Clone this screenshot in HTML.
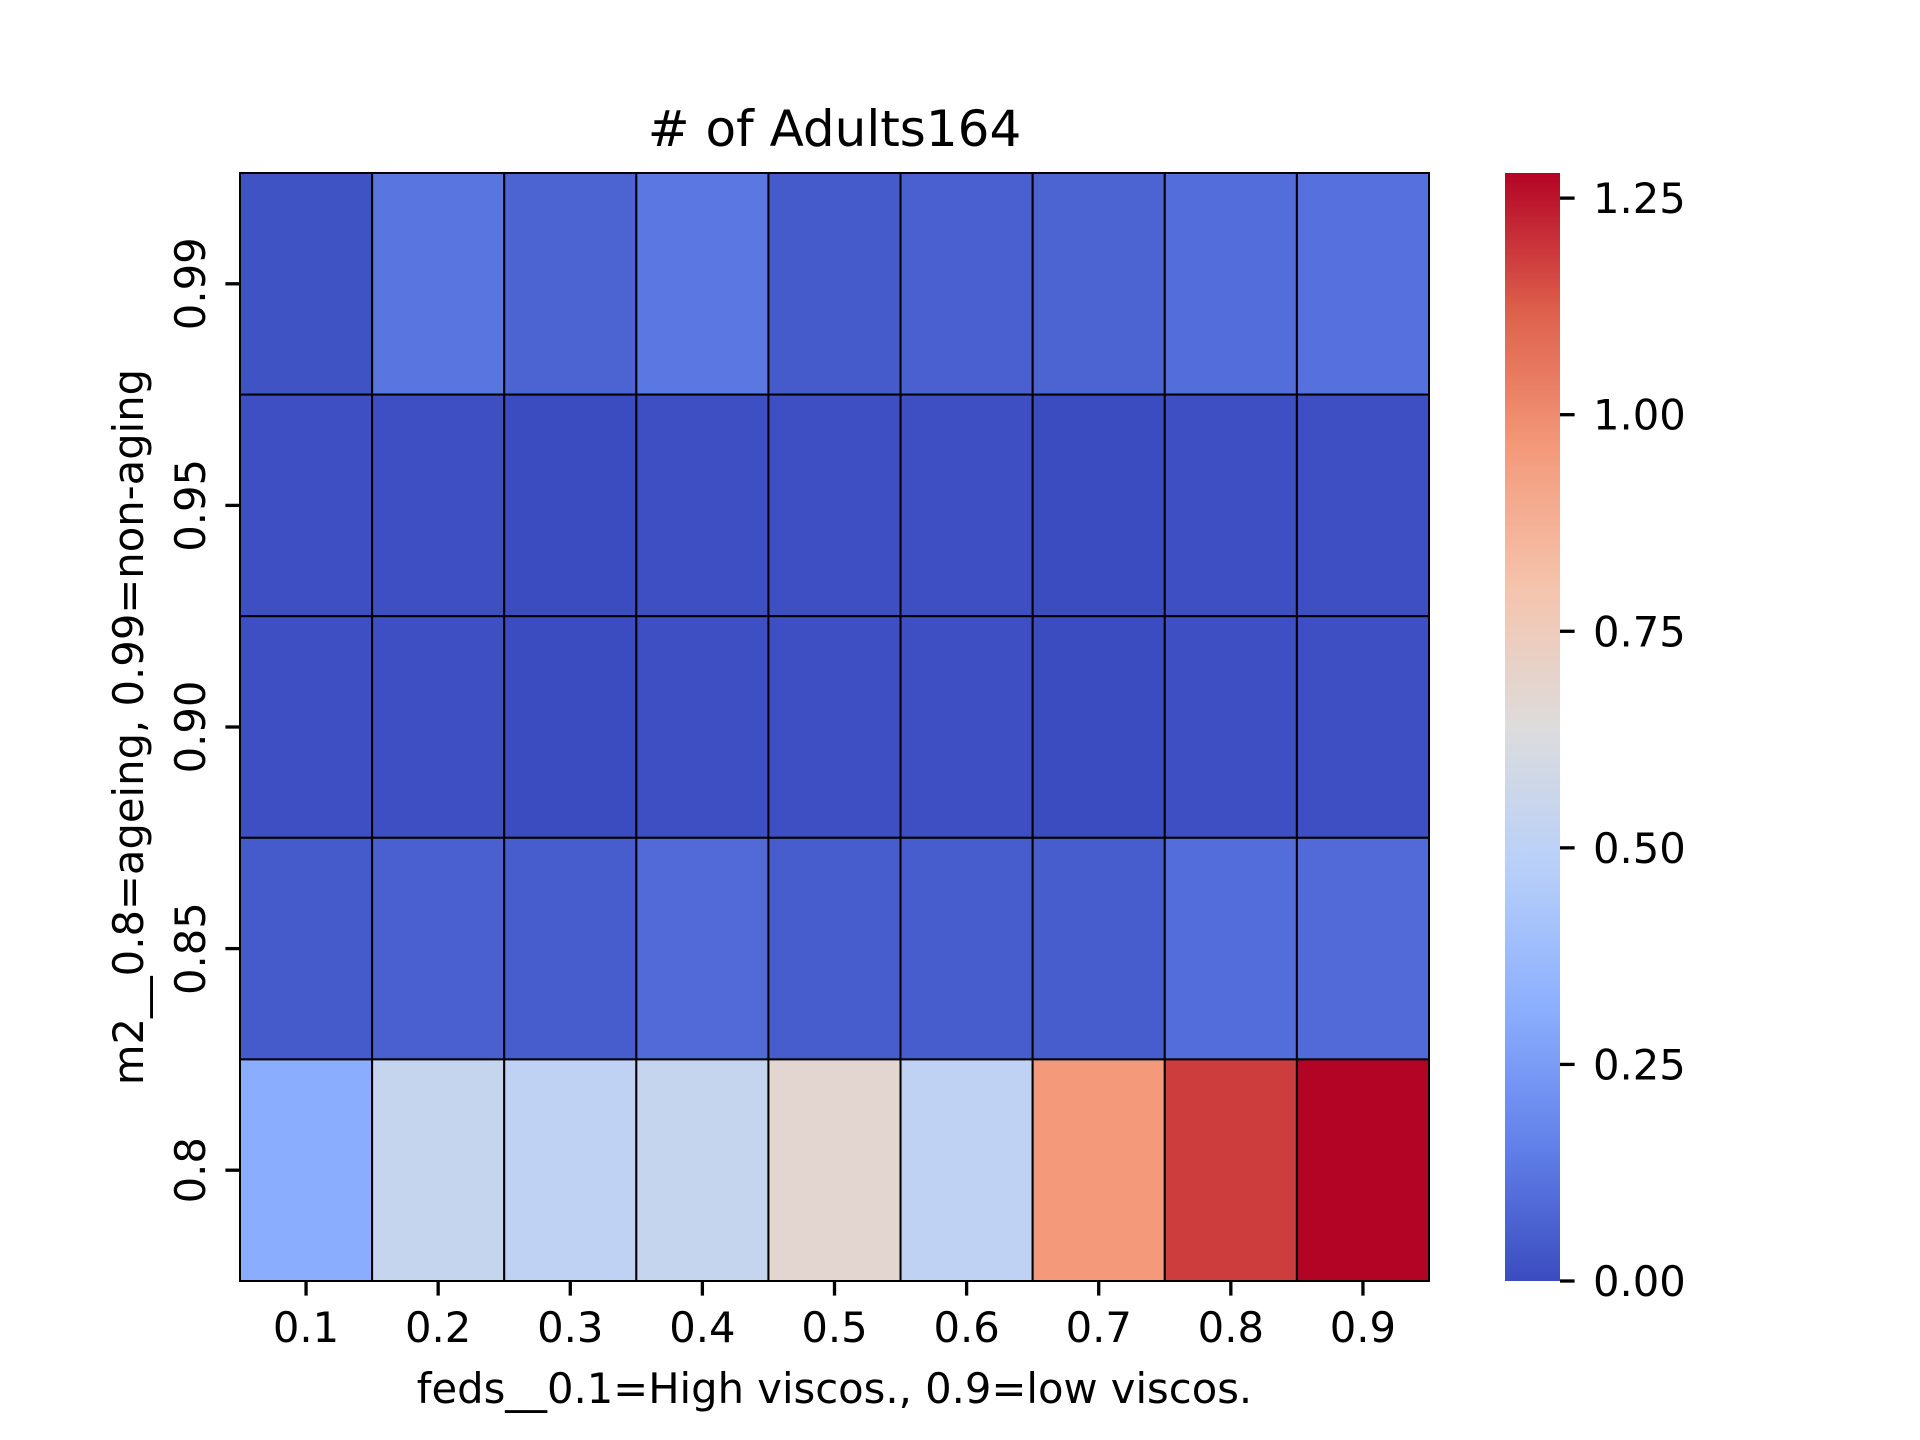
<!DOCTYPE html>
<html><head><meta charset="utf-8"><style>
html,body{margin:0;padding:0;background:#fff;}
svg{display:block;font-family:"DejaVu Sans","Liberation Sans",sans-serif;}
</style></head><body>
<svg id="chart" width="1920" height="1440" viewBox="0 0 1920 1440" xmlns="http://www.w3.org/2000/svg">
<defs><linearGradient id="cbgrad" x1="0" y1="1" x2="0" y2="0"></linearGradient></defs>
<text x="834.5" y="146" font-size="50" text-anchor="middle">#  of Adults164</text>
<g id="cells"></g>
<g id="xaxis"></g>
<g id="yaxis"></g>
<text x="834.5" y="1403" font-size="41.7" text-anchor="middle">feds__0.1=High viscos., 0.9=low viscos.</text>
<text transform="translate(143,727) rotate(-90)" font-size="41.7" text-anchor="middle">m2__0.8=ageing, 0.99=non-aging</text>
<rect id="cbar" x="1505" y="173" width="55" height="1108" fill="url(#cbgrad)"/>
<g id="cbaxis"></g>
</svg>
<script>
const xCategories = ["0.1","0.2","0.3","0.4","0.5","0.6","0.7","0.8","0.9"];
const yCategories = ["0.99","0.95","0.90","0.85","0.8"];
const row099 = [0.02,0.12,0.07,0.13,0.04,0.06,0.07,0.10,0.11];
const row095 = [0.01,0.01,0.00,0.01,0.01,0.01,0.00,0.01,0.01];
const row090 = [0.01,0.01,0.00,0.01,0.01,0.01,0.00,0.01,0.01];
const row085 = [0.04,0.06,0.05,0.09,0.05,0.05,0.05,0.10,0.09];
const row080 = [0.31,0.54,0.51,0.54,0.68,0.51,0.96,1.18,1.279];
const cbTicks = [0,0.25,0.5,0.75,1.0,1.25];
const cbTickLabels = ["0.00","0.25","0.50","0.75","1.00","1.25"];
const vmin = 0, vmax = 1.279;

const NS="http://www.w3.org/2000/svg";
const L=240,R=1429,T=173,B=1281;
const rows=[row099,row095,row090,row085,row080];
const cw=(R-L)/xCategories.length, ch=(B-T)/yCategories.length;
const xPos=i=>L+i*cw, yPos=j=>T+j*ch;
const cmapStops=[[0,[59,76,192]],[0.125,[98,130,234]],[0.25,[141,176,254]],[0.375,[184,208,249]],[0.5,[221,220,220]],[0.625,[245,196,173]],[0.75,[244,154,123]],[0.875,[222,96,76]],[1,[180,4,38]]];
function cmap(t){t=Math.max(0,Math.min(1,t));for(let k=1;k<cmapStops.length;k++){if(t<=cmapStops[k][0]){const [a,ca]=cmapStops[k-1],[b,cb]=cmapStops[k];const f=(t-a)/(b-a);return `rgb(${ca.map((v,i)=>Math.round(v+(cb[i]-v)*f)).join(',')})`;}}return 'rgb(180,4,38)';}
const norm=v=>(v-vmin)/(vmax-vmin);
function mk(tag,attrs,parent){const e=document.createElementNS(NS,tag);for(const k in attrs)e.setAttribute(k,attrs[k]);parent.appendChild(e);return e;}
const cells=document.getElementById('cells');
rows.forEach((row,j)=>row.forEach((v,i)=>{
  const r=mk('rect',{x:xPos(i),y:yPos(j),width:cw,height:ch,fill:cmap(norm(v)),stroke:'#000','stroke-width':2},cells);
  
  
}));
const xa=document.getElementById('xaxis');
xCategories.forEach((c,i)=>{
  const cx=xPos(i)+cw/2;
  const t=mk('line',{x1:cx,x2:cx,y1:B,y2:B+14.6,stroke:'#000','stroke-width':3.3},xa);
  
  
  const tx=mk('text',{x:cx,y:1342,'font-size':41.7,'text-anchor':'middle'},xa);
  tx.textContent=c;
  
  
});
const ya=document.getElementById('yaxis');
yCategories.forEach((c,j)=>{
  const cy=yPos(j)+ch/2;
  const t=mk('line',{x1:L-14.6,x2:L,y1:cy,y2:cy,stroke:'#000','stroke-width':3.3},ya);
  
  
  const tx=mk('text',{transform:`translate(205,${cy}) rotate(-90)`,'font-size':41.7,'text-anchor':'middle'},ya);
  tx.textContent=c;
  
  
});
const g=document.getElementById('cbgrad');
cmapStops.forEach(([o,c])=>mk('stop',{offset:o,'stop-color':`rgb(${c.join(',')})`},g));
const cba=document.getElementById('cbaxis');
const cbY=v=>B-(v-vmin)/(vmax-vmin)*(B-T);
cbTicks.forEach((v,k)=>{
  const y=cbY(v);
  const t=mk('line',{x1:1560,x2:1574.6,y1:y,y2:y,stroke:'#000','stroke-width':3.3},cba);
  
  
  const tx=mk('text',{x:1593,y:y+15,'font-size':41.7},cba);
  tx.textContent=cbTickLabels[k];
  
  
});
</script>
</body></html>
